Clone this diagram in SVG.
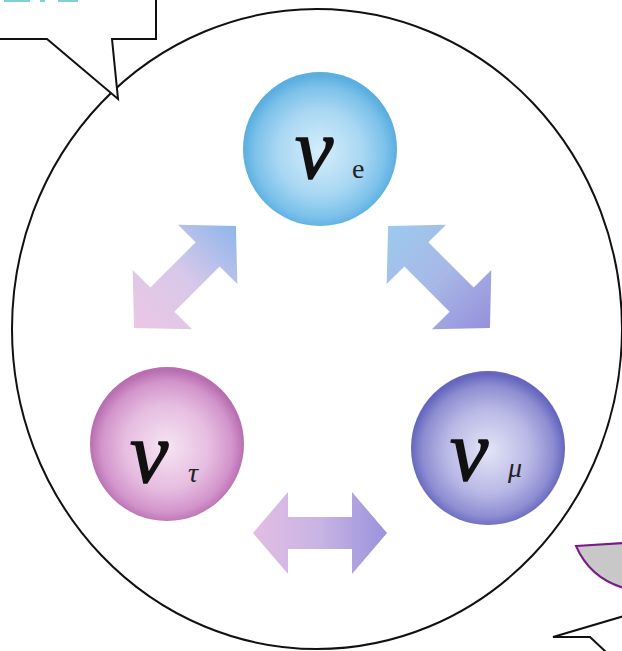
<svg xmlns="http://www.w3.org/2000/svg" width="622" height="651" viewBox="0 0 622 651">
<defs>
<radialGradient id="gBlue" cx="50%" cy="52%" r="50%">
<stop offset="0" stop-color="#d6eefb"/>
<stop offset="0.55" stop-color="#a9d7f3"/>
<stop offset="0.85" stop-color="#7cc1ea"/>
<stop offset="1" stop-color="#5aaee0"/>
</radialGradient>
<radialGradient id="gPink" cx="50%" cy="52%" r="50%">
<stop offset="0" stop-color="#f6e4f3"/>
<stop offset="0.55" stop-color="#e6bde0"/>
<stop offset="0.85" stop-color="#d294cb"/>
<stop offset="1" stop-color="#b86eb0"/>
</radialGradient>
<radialGradient id="gViolet" cx="50%" cy="52%" r="50%">
<stop offset="0" stop-color="#e4e4f7"/>
<stop offset="0.55" stop-color="#b8b8e6"/>
<stop offset="0.85" stop-color="#8d8dd2"/>
<stop offset="1" stop-color="#6566be"/>
</radialGradient>
<linearGradient id="aLeft" x1="0" y1="0" x2="1" y2="0">
<stop offset="0" stop-color="#ecc6e4"/>
<stop offset="0.5" stop-color="#d8c8ea"/>
<stop offset="1" stop-color="#8eb6ea"/>
</linearGradient>
<linearGradient id="aRight" x1="0" y1="0" x2="1" y2="0">
<stop offset="0" stop-color="#9ccaee"/>
<stop offset="0.5" stop-color="#a8b8e6"/>
<stop offset="1" stop-color="#9690dc"/>
</linearGradient>
<linearGradient id="aBottom" x1="0" y1="0" x2="1" y2="0">
<stop offset="0" stop-color="#e2bde2"/>
<stop offset="0.5" stop-color="#c8b4e4"/>
<stop offset="1" stop-color="#9a92dc"/>
</linearGradient>
</defs>
<style>
.outline{fill:none;stroke:#111;stroke-width:2}
.callout{fill:#fff;stroke:#111;stroke-width:2;stroke-linejoin:miter}
.nu{font-family:"Liberation Serif","Times New Roman",serif;font-style:italic;font-size:86px;fill:#111;stroke:#111;stroke-width:1.5}
.sub{font-family:"Liberation Serif","Times New Roman",serif;font-style:italic;font-size:28px;fill:#222}
.subr{font-family:"Liberation Serif","Times New Roman",serif;font-size:28px;fill:#222}
</style>
<rect width="622" height="651" fill="#ffffff"/>

<ellipse class="outline" cx="317" cy="329" rx="305" ry="320"/>

<!-- top-left callout -->
<path class="callout" d="M0,39 L47,39 L118,99 L112,39 L156,39 L156,-2" />
<g fill="#7fd0d8">
<rect x="4" y="0" width="26" height="2"/>
<rect x="40" y="0" width="5" height="2"/>
<rect x="58" y="0" width="20" height="2"/>
</g>

<!-- bottom-right shapes -->
<path d="M576,546 L624,543 L624,588 Q590,578 576,546 Z" fill="#c8c8c8" stroke="#7a1a8a" stroke-width="2"/>
<path class="outline" d="M624,616 L553,637 L590,637 L606,652"/>

<g id="connectors">
<polygon transform="translate(185,277) rotate(-45)" fill="url(#aLeft)" points="-72,0 -32,-42 -32,-17 32,-17 32,-42 72,0 32,42 32,17 -32,17 -32,42"/>
<polygon transform="translate(439,277) rotate(45)" fill="url(#aRight)" points="-72,0 -32,-42 -32,-17 32,-17 32,-42 72,0 32,42 32,17 -32,17 -32,42"/>
<polygon transform="translate(320,533)" fill="url(#aBottom)" points="-67,0 -32,-41 -32,-16 32,-16 32,-41 67,0 32,41 32,16 -32,16 -32,41"/>
</g>

<g id="nu-e">
<circle cx="320" cy="149" r="77" fill="url(#gBlue)"/>
<text class="nu" x="295" y="178">ν</text>
<text class="subr" x="352" y="178">e</text>
</g>

<g id="nu-tau">
<circle cx="167" cy="444" r="77" fill="url(#gPink)"/>
<text class="nu" x="130" y="482">ν</text>
<text class="sub" x="188" y="482">τ</text>
</g>

<g id="nu-mu">
<circle cx="488" cy="448" r="77" fill="url(#gViolet)"/>
<text class="nu" x="450" y="480">ν</text>
<text class="sub" x="508" y="477">μ</text>
</g>
</svg>
